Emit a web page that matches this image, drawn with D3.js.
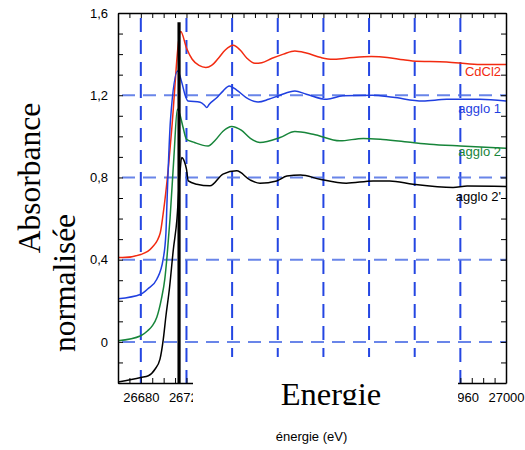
<!DOCTYPE html>
<html>
<head>
<meta charset="utf-8">
<script src="https://cdn.jsdelivr.net/npm/d3@7"></script>
<style>
  body { margin: 0; background: #fff; }
  svg { display: block; }
</style>
</head>
<body>
<svg id="chart" width="525" height="450"></svg>
<script>
// energy (eV), absorbance pairs
const cdcl2 = [
  [26660, 0.41], [26664, 0.41], [26680, 0.425], [26690, 0.46], [26697, 0.53],
  [26699.5, 0.62], [26704, 0.84], [26707, 1.03], [26715, 1.51], [26720, 1.43],
  [26725, 1.375], [26731, 1.345], [26737, 1.335], [26742, 1.345], [26748, 1.38],
  [26754, 1.42], [26761, 1.443], [26767, 1.42], [26773, 1.38], [26780, 1.355],
  [26786, 1.358], [26795, 1.38], [26805, 1.40], [26815, 1.415], [26825, 1.405],
  [26838, 1.383], [26848, 1.375], [26860, 1.38], [26882, 1.388], [26896, 1.384],
  [26910, 1.372], [26918, 1.367], [26948, 1.362], [26975, 1.35], [27000, 1.35]
];
const agglo1 = [
  [26660, 0.21], [26680, 0.232], [26686, 0.257], [26694, 0.305], [26699.5, 0.40],
  [26702, 0.53], [26703, 0.69], [26706, 1.08], [26712.3, 1.318], [26716, 1.26],
  [26719, 1.197], [26721.3, 1.172], [26732, 1.166], [26736, 1.15], [26737.7, 1.14],
  [26740, 1.156], [26747, 1.19], [26752, 1.22], [26757.5, 1.245], [26764, 1.225],
  [26772, 1.19], [26782.7, 1.167], [26792, 1.18], [26802, 1.2], [26815, 1.22],
  [26825, 1.205], [26843, 1.18], [26857, 1.197], [26883, 1.2], [26901, 1.19],
  [26927, 1.172], [26948, 1.18], [26977, 1.18], [27000, 1.172]
];
const agglo2 = [
  [26660, 0.005], [26680, 0.03], [26686, 0.054], [26690, 0.078], [26694, 0.12],
  [26698, 0.208], [26701, 0.305], [26703, 0.418], [26705.6, 0.6], [26709, 0.9],
  [26712, 1.132], [26714, 1.11], [26717, 1.044], [26720, 0.986], [26727, 0.97],
  [26739, 0.953], [26745, 0.98], [26752, 1.025], [26759.6, 1.048], [26768, 1.03],
  [26776, 0.99], [26784.4, 0.97], [26802, 0.994], [26815, 1.023], [26831, 1.01],
  [26854.5, 0.978], [26875, 0.99], [26892, 0.985], [26918, 0.97], [26933, 0.962],
  [26960, 0.953], [27000, 0.942]
];
const agglo2b = [
  [26660, -0.195], [26680, -0.173], [26686.6, -0.165], [26692.4, -0.133], [26696.8, -0.084],
  [26699.7, 0.013], [26702, 0.126], [26705, 0.256], [26708.5, 0.45], [26711.7, 0.6],
  [26714, 0.8], [26715.8, 0.897], [26718, 0.88], [26720, 0.84], [26721.6, 0.783],
  [26729, 0.767], [26740.6, 0.759], [26752, 0.816], [26764, 0.832], [26775.7, 0.788],
  [26784.4, 0.772], [26799, 0.783], [26808, 0.807], [26820, 0.812], [26837, 0.791],
  [26860, 0.772], [26883.5, 0.783], [26898, 0.783], [26918.5, 0.767], [26953.6, 0.751],
  [26966, 0.758], [27000, 0.756]
];
const seriesNames = ['CdCl2', 'agglo 1', 'agglo 2', "agglo 2'"];
const seriesData = [cdcl2, agglo1, agglo2, agglo2b];
const seriesColors = ['#f22a10', '#1f3fe0', '#17853a', '#000000'];
const labelValues = [1.292, 1.112, 0.903, 0.684];

const edgeLine = [[26713.5, -0.2], [26713.5, 1.555]];
const xMajor = d3.range(26680, 27001, 40);
const xLabeled = [26680, 26720, 26960, 27000];
const xMinor = d3.range(26660, 27001, 10);
const yMinor = d3.range(-2, 17).map(i => i / 10);
const yGrid = [0, 0.4, 0.8, 1.2];

const svg = d3.select('#chart');
const margin = { top: 13, right: 19, bottom: 67, left: 118 };
const width = 525, height = 450;

const x = d3.scaleLinear().domain([26660, 27000]).range([margin.left, width - margin.right]);
const y = d3.scaleLinear().domain([-0.2, 1.6]).range([height - margin.bottom, margin.top]);

svg.append('defs').append('clipPath').attr('id', 'plot-clip')
  .append('rect')
  .attr('x', x.range()[0]).attr('y', y.range()[1])
  .attr('width', x.range()[1] - x.range()[0])
  .attr('height', y.range()[0] - y.range()[1]);

// grid
const grid = svg.append('g');
grid.selectAll('.vgrid')
  .data(xMajor.filter(d => d < 27000))
  .join('line')
  .attr('x1', d => x(d)).attr('x2', d => x(d))
  .attr('y1', y(1.6)).attr('y2', y(-0.2))
  .attr('stroke', '#2446e2')
  .attr('stroke-width', 2)
  .attr('stroke-dasharray', '14,8')
  .attr('stroke-dashoffset', -5);

grid.selectAll('.hgrid')
  .data(yGrid)
  .join('line')
  .attr('x1', x(26660)).attr('x2', x(27000))
  .attr('y1', d => y(d)).attr('y2', d => y(d))
  .attr('stroke', '#4f70e6')
  .attr('stroke-width', 2)
  .attr('stroke-dasharray', '13,8')
  .attr('stroke-dashoffset', -4)
  .attr('opacity', 0.85);

// curves
const line = d3.line().x(d => x(d[0])).y(d => y(d[1])).curve(d3.curveMonotoneX);
svg.append('g')
  .attr('clip-path', 'url(#plot-clip)')
  .selectAll('path')
  .data(seriesData)
  .join('path')
  .attr('d', line)
  .attr('fill', 'none')
  .attr('stroke', (d, i) => seriesColors[i])
  .attr('stroke-width', 1.5)
  .attr('stroke-linejoin', 'round');

// thick edge marker
svg.append('line')
  .attr('x1', x(edgeLine[0][0])).attr('x2', x(edgeLine[1][0]))
  .attr('y1', y(edgeLine[0][1])).attr('y2', y(edgeLine[1][1]))
  .attr('stroke', '#000')
  .attr('stroke-width', 3.2);

// series labels
svg.append('g')
  .attr('clip-path', 'url(#plot-clip)')
  .selectAll('text')
  .data(seriesNames)
  .join('text')
  .attr('x', x(27000) - 5)
  .attr('y', (d, i) => y(labelValues[i]))
  .attr('text-anchor', 'end')
  .attr('font-family', 'Liberation Sans, Arial, sans-serif')
  .attr('font-size', 13)
  .attr('fill', (d, i) => seriesColors[i])
  .text(d => d);

// axes
const fmt = d => Math.abs(d) < 1e-9 ? '0' : d3.format('.1f')(d).replace('.', ',');

svg.append('g')
  .attr('transform', `translate(0,${y(-0.2)})`)
  .call(d3.axisBottom(x).tickValues(xMinor).tickSize(-5).tickSizeOuter(0).tickPadding(10)
    .tickFormat(d => xLabeled.includes(d) ? d : ''));
svg.append('g')
  .attr('transform', `translate(0,${y(1.6)})`)
  .call(d3.axisTop(x).tickValues(xMinor).tickSize(-5).tickSizeOuter(0).tickFormat(''));
svg.append('g')
  .attr('transform', `translate(${x(26660)},0)`)
  .call(d3.axisLeft(y).tickValues(yMinor).tickSize(-5).tickSizeOuter(0).tickPadding(10)
    .tickFormat(d => Math.round(d * 10) % 4 === 0 ? fmt(d) : ''));
svg.append('g')
  .attr('transform', `translate(${x(27000)},0)`)
  .call(d3.axisRight(y).tickValues(yMinor).tickSize(-5).tickSizeOuter(0).tickFormat(''));

svg.selectAll('.domain').attr('stroke', '#000').attr('stroke-width', 1.5);
svg.selectAll('.tick line').attr('stroke', '#000').attr('stroke-width', 1);
svg.selectAll('.tick text')
  .attr('font-family', 'Liberation Sans, Arial, sans-serif')
  .attr('font-size', 13)
  .attr('fill', '#000');

// pasted caption box covering the middle of the x axis
svg.append('defs').append('clipPath').attr('id', 'caption-clip')
  .append('rect')
  .attr('x', 193).attr('y', 357).attr('width', 265).attr('height', 48);
svg.append('rect')
  .attr('x', 193).attr('y', 357).attr('width', 265).attr('height', 49)
  .attr('fill', '#fff');
svg.append('text')
  .attr('clip-path', 'url(#caption-clip)')
  .attr('x', 331).attr('y', 405)
  .attr('text-anchor', 'middle')
  .attr('font-family', 'Liberation Serif, Times New Roman, serif')
  .attr('font-size', 32.5)
  .text('Energie');

// y title (two lines, serif)
svg.append('text')
  .attr('transform', 'translate(40,178) rotate(-90)')
  .attr('text-anchor', 'middle')
  .attr('font-family', 'Liberation Serif, Times New Roman, serif')
  .attr('font-size', 31.5)
  .text('Absorbance');
svg.append('text')
  .attr('transform', 'translate(75,283) rotate(-90)')
  .attr('text-anchor', 'middle')
  .attr('font-family', 'Liberation Serif, Times New Roman, serif')
  .attr('font-size', 31.5)
  .text('normalisée');

// x title
svg.append('text')
  .attr('x', 311.5).attr('y', 441)
  .attr('text-anchor', 'middle')
  .attr('font-family', 'Liberation Sans, Arial, sans-serif')
  .attr('font-size', 13)
  .text('énergie (eV)');
</script>
</body>
</html>
